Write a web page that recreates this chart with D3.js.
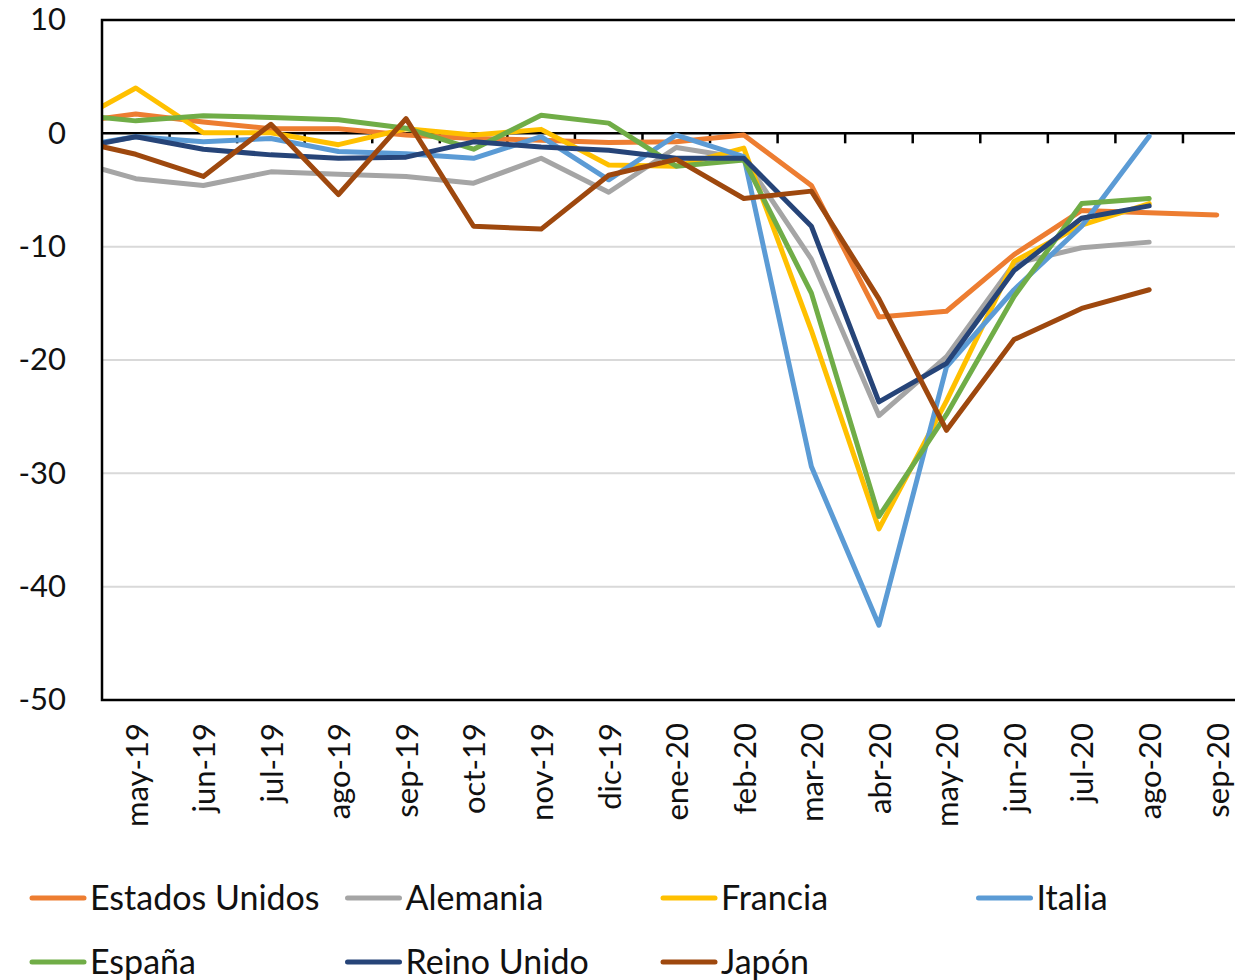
<!DOCTYPE html>
<html>
<head>
<meta charset="utf-8">
<script src="https://cdn.jsdelivr.net/npm/d3@7"></script>
<style>
  body { margin: 0; background: #fff; }
  svg { display: block; }
</style>
</head>
<body>
<div class="chart"></div>
<script>
// months; "abr-19" sits just outside the left edge of the plot (only its segment shows)
const months = ['abr-19','may-19','jun-19','jul-19','ago-19','sep-19','oct-19','nov-19','dic-19',
                'ene-20','feb-20','mar-20','abr-20','may-20','jun-20','jul-20','ago-20','sep-20'];
const shownMonths = months.slice(1);
const yTicks = [10, 0, -10, -20, -30, -40, -50];

const estadosUnidos = [0.9, 1.7, 1.0, 0.4, 0.4, -0.15, -0.45, -0.6, -0.8, -0.75, -0.15, -4.6, -16.2, -15.7, -10.7, -6.8, -7.0, -7.2];
const alemania      = [-2.3, -4.0, -4.6, -3.4, -3.6, -3.8, -4.4, -2.2, -5.2, -1.25, -2.2, -11.1, -24.9, -19.7, -11.5, -10.1, -9.6, null];
const francia       = [0.7, 4.0, 0.05, 0.05, -1.0, 0.4, -0.15, 0.35, -2.8, -2.9, -1.3, -17.4, -34.9, -23.6, -11.3, -8.1, -6.2, null];
const italia        = [-1.3, -0.3, -0.75, -0.45, -1.6, -1.8, -2.2, -0.3, -4.1, -0.15, -2.05, -29.4, -43.4, -20.6, -13.8, -8.2, -0.25, null];
const espana        = [1.7, 1.1, 1.55, 1.4, 1.2, 0.45, -1.4, 1.6, 0.9, -2.9, -2.35, -14.1, -33.8, -24.8, -14.4, -6.2, -5.75, null];
const reinoUnido    = [-1.45, -0.3, -1.4, -1.9, -2.2, -2.1, -0.75, -1.2, -1.5, -2.2, -2.2, -8.2, -23.7, -20.3, -12.1, -7.5, -6.4, null];
const japon         = [-0.5, -1.85, -3.8, 0.8, -5.4, 1.3, -8.2, -8.45, -3.7, -2.3, -5.75, -5.1, -14.6, -26.2, -18.2, -15.45, -13.8, null];

const seriesNames  = ['Estados Unidos', 'Alemania', 'Francia', 'Italia', 'España', 'Reino Unido', 'Japón'];
const seriesColors = ['#ED7D31', '#A5A5A5', '#FFC000', '#5B9BD5', '#70AD47', '#264478', '#9E480E'];
const seriesValues = [estadosUnidos, alemania, francia, italia, espana, reinoUnido, japon];

const width = 1235, height = 980;
const plotLeft = 102, plotTop = 20, plotBottom = 700;
const step = 67.56;

const svg = d3.select('.chart').append('svg')
    .attr('width', width)
    .attr('height', height)
    .style('font-family', 'Lato, "Open Sans", sans-serif');

const x = d3.scalePoint()
    .domain(months)
    .range([plotLeft - step / 2, plotLeft - step / 2 + step * (months.length - 1)]);
const y = d3.scaleLinear().domain([-50, 10]).range([plotBottom, plotTop]);

// grid lines
svg.append('g').selectAll('line')
    .data(yTicks.filter(d => d < 10 && d > -50 && d !== 0))
    .enter().append('line')
    .attr('x1', plotLeft).attr('x2', width)
    .attr('y1', d => y(d)).attr('y2', d => y(d))
    .attr('stroke', '#d9d9d9').attr('stroke-width', 2);

// y axis labels (plain hyphen as minus, like the original)
const yAxis = svg.append('g')
    .attr('transform', `translate(${plotLeft},0)`)
    .call(d3.axisLeft(y).tickValues(yTicks).tickSize(0).tickPadding(36).tickFormat(d => String(d)));
yAxis.select('.domain').remove();
yAxis.selectAll('text').attr('font-size', 31).attr('fill', '#111').attr('font-family', 'Lato, sans-serif');

// clip for the lines
svg.append('clipPath').attr('id', 'plot')
  .append('rect').attr('x', plotLeft).attr('y', plotTop).attr('width', width - plotLeft).attr('height', plotBottom - plotTop);

const line = d3.line()
    .defined(d => d.v !== null)
    .x(d => x(d.m))
    .y(d => y(d.v));

// zero line with tick marks at category boundaries
svg.append('line')
    .attr('x1', plotLeft).attr('x2', width)
    .attr('y1', y(0)).attr('y2', y(0))
    .attr('stroke', '#000').attr('stroke-width', 2.5);
const bounds = shownMonths.slice(0, -1).map((m, i) => (x(m) + x(shownMonths[i + 1])) / 2);
svg.append('g').selectAll('line')
    .data(bounds)
    .enter().append('line')
    .attr('x1', d => d).attr('x2', d => d)
    .attr('y1', y(0)).attr('y2', y(0) + 10)
    .attr('stroke', '#000').attr('stroke-width', 2.5);

// series
svg.append('g').attr('clip-path', 'url(#plot)')
  .selectAll('path')
  .data(seriesValues)
  .enter().append('path')
    .attr('d', vals => line(vals.map((v, i) => ({m: months[i], v: v}))))
    .attr('fill', 'none')
    .attr('stroke', (d, i) => seriesColors[i])
    .attr('stroke-width', 5)
    .attr('stroke-linejoin', 'round')
    .attr('stroke-linecap', 'round');

// plot frame (top, left, bottom)
svg.append('path')
    .attr('d', `M${width},${plotTop}H${plotLeft}V${plotBottom}H${width}`)
    .attr('fill', 'none').attr('stroke', '#000').attr('stroke-width', 2.5);

// x labels
svg.append('g').selectAll('text')
    .data(shownMonths)
    .enter().append('text')
    .attr('transform', d => `translate(${x(d) + 1},${plotBottom + 23}) rotate(-90)`)
    .attr('text-anchor', 'end')
    .attr('dy', '0.35em')
    .attr('font-size', 31)
    .attr('fill', '#111')
    .text(d => d);

// legend
const legend = svg.append('g').selectAll('g')
    .data(seriesNames)
    .enter().append('g')
    .attr('transform', (d, i) => `translate(${32 + (i % 4) * 315.5},${898 + Math.floor(i / 4) * 64})`);
legend.append('line')
    .attr('x1', 0).attr('x2', 52)
    .attr('stroke', (d, i) => seriesColors[i])
    .attr('stroke-width', 5)
    .attr('stroke-linecap', 'round');
legend.append('text')
    .attr('x', 58)
    .attr('dy', '0.35em')
    .attr('font-size', 34)
    .attr('fill', '#111')
    .text(d => d);
</script>
</body>
</html>
